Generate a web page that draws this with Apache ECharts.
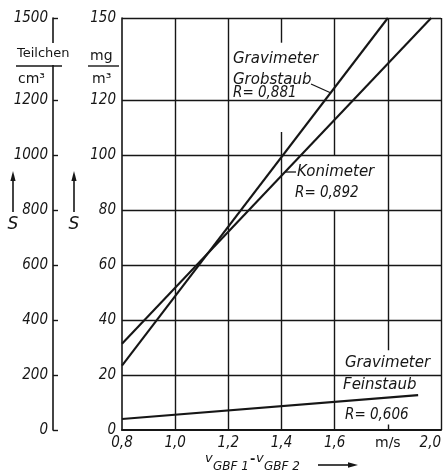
<!DOCTYPE html>
<html><head><meta charset="utf-8">
<script src="https://cdn.jsdelivr.net/npm/echarts@6/dist/echarts.min.js"></script>
<style>html,body{margin:0;padding:0;background:#fff}#c{width:444px;height:476px}</style>
</head><body><div id="c"></div>
<script>
// ---- data ----
const xTicks = [0.8, 1.0, 1.2, 1.4, 1.6, 1.8, 2.0];
const xTickLabels = ['0,8', '1,0', '1,2', '1,4', '1,6', 'm/s', '2,0'];
const massTicks = [0, 20, 40, 60, 80, 100, 120, 150];
const countTicks = [0, 200, 400, 600, 800, 1000, 1200, 1500];
// regression lines (start / end points)
const grobX = [0.8, 1.8];
const grobY = [23.4, 150];
const koniX = [0.8, 1.963];
const koniY = [31.4, 150];
const feinX = [0.8, 1.914];
const feinY = [4.0, 12.7];
// grid lines: horizontal values, vertical [x, from, to] segments
const hGrid = [20, 40, 60, 80, 100, 120, 150];
const vGrid = [[1.0, 0, 150], [1.2, 0, 150], [1.4, 0, 108.5], [1.4, 141, 150],
               [1.6, 0, 80], [1.6, 100, 150], [1.8, 29, 150], [1.8, 0, 2], [2.0, 0, 150]];

const INK = '#161616';
const NUM = '"Liberation Sans Narrow", "DejaVu Sans Condensed", sans-serif';
const TXT = '"DejaVu Sans", sans-serif';
const TXTC = '"DejaVu Sans Condensed", "DejaVu Sans", sans-serif';

function pts(xs, ys) { return xs.map((x, i) => [x, ys[i]]); }
function pick(list, labels) {
  return function (v) {
    const i = list.findIndex(t => Math.abs(t - v) < 1e-6);
    if (i < 0) return '';
    return labels ? labels[i] : String(list[i]);
  };
}
const xFmt = pick(xTicks, xTickLabels);

const gridMarks = hGrid.map(v => ({ yAxis: v }))
  .concat(vGrid.map(s => [{ coord: [s[0], s[1]] }, { coord: [s[0], s[2]] }]));

const lineStyle = { color: INK, width: 2.1 };

function txt(text, x, y, font, extra) {
  return { type: 'text', silent: true, z: 20,
    style: Object.assign({ text: text, x: x, y: y, font: font, fill: INK,
      textAlign: 'left', textVerticalAlign: 'middle' }, extra || {}) };
}
function seg(x1, y1, x2, y2, w) {
  return { type: 'line', silent: true, z: 20,
    shape: { x1: x1, y1: y1, x2: x2, y2: y2 },
    style: { stroke: INK, lineWidth: w || 1.4 } };
}
function upArrow(x, yTop, yBot) {
  return [seg(x, yTop + 8, x, yBot, 1.6),
    { type: 'polygon', silent: true, z: 20,
      shape: { points: [[x, yTop], [x - 2.6, yTop + 10], [x + 2.6, yTop + 10]] },
      style: { fill: INK } }];
}

const chart = echarts.init(document.getElementById('c'), null, { renderer: 'canvas' });
chart.setOption({
  animation: false,
  backgroundColor: '#fff',
  grid: { left: 122, right: 1, top: 18, bottom: 46, containLabel: false },
  xAxis: {
    type: 'value', min: 0.8, max: 2.0, interval: 0.2,
    axisLine: { show: true, onZero: false, lineStyle: { color: INK, width: 2 } },
    axisTick: { show: false },
    splitLine: { show: false },
    axisLabel: {
      formatter: v => { const s = xFmt(v); return s === 'm/s' ? '{u|m/s}' : s; },
      fontFamily: NUM, fontStyle: 'italic', fontSize: 15, color: INK, margin: 6,
      alignMaxLabel: 'right',
      rich: { u: { fontFamily: TXT, fontStyle: 'normal', fontSize: 14, color: INK } }
    }
  },
  yAxis: [
    {
      type: 'value', min: 0, max: 150, interval: 10,
      axisLine: { show: true, onZero: false, lineStyle: { color: INK, width: 1.6 } },
      axisTick: { show: false },
      splitLine: { show: false },
      axisLabel: {
        customValues: massTicks,
        formatter: pick(massTicks),
        fontFamily: NUM, fontStyle: 'italic', fontSize: 15, color: INK, margin: 6
      }
    },
    {
      type: 'value', min: 0, max: 1500, interval: 100, position: 'left', offset: 69,
      axisLine: { show: true, onZero: false, lineStyle: { color: INK, width: 1.6 } },
      axisTick: { show: true, inside: true, length: 5, customValues: countTicks,
        lineStyle: { color: INK, width: 1.4 } },
      splitLine: { show: false },
      axisLabel: {
        customValues: countTicks,
        formatter: pick(countTicks),
        fontFamily: NUM, fontStyle: 'italic', fontSize: 15, color: INK, margin: 5
      }
    }
  ],
  series: [
    { name: 'Gravimeter Grobstaub', type: 'line', data: pts(grobX, grobY), symbol: 'none',
      lineStyle: lineStyle, z: 5, clip: true },
    { name: 'Konimeter', type: 'line', data: pts(koniX, koniY), symbol: 'none',
      lineStyle: lineStyle, z: 5, clip: true },
    { name: 'Gravimeter Feinstaub', type: 'line', data: pts(feinX, feinY), symbol: 'none',
      lineStyle: lineStyle, z: 5, clip: true,
      markLine: { silent: true, symbol: ['none', 'none'], label: { show: false },
        lineStyle: { color: INK, width: 1.4, type: 'solid' }, data: gridMarks } }
  ],
  graphic: [
    // left unit labels
    txt('Teilchen', 17, 54, '13px ' + TXT, { backgroundColor: '#fff', padding: [5, 0, 4, 0] }),
    seg(16, 66, 62, 66, 1.6),
    txt('cm³', 18, 79, '14px ' + TXT),
    txt('mg', 90, 56, '14px ' + TXT),
    seg(88, 66, 119, 66, 1.4),
    txt('m³', 92, 79, '14px ' + TXT),
    ...upArrow(13, 171, 212),
    txt('S', 13, 225, 'italic 17px ' + TXT, { textAlign: 'center' }),
    ...upArrow(74, 171, 212),
    txt('S', 74, 225, 'italic 17px ' + TXT, { textAlign: 'center' }),
    // annotations
    txt('Gravimeter', 233, 59, 'italic 15px ' + TXT),
    txt('Grobstaub', 233, 80, 'italic 15px ' + TXT),
    txt('R= 0,881', 233, 93, 'italic 15px ' + TXTC),
    seg(311, 84, 331, 93, 1.3),
    seg(285, 172, 296, 172, 1.3),
    txt('Konimeter', 297, 172, 'italic 15px ' + TXT),
    txt('R= 0,892', 295, 193, 'italic 15px ' + TXTC),
    txt('Gravimeter', 345, 363, 'italic 15px ' + TXT),
    txt('Feinstaub', 343, 385, 'italic 15px ' + TXT),
    txt('R= 0,606', 345, 415, 'italic 15px ' + TXTC),
    // x-axis title
    txt('v', 205, 459, 'italic 13px ' + TXT),
    txt('GBF 1', 213, 467, 'italic 12px ' + TXT),
    txt('-', 250, 460, 'bold 13px ' + TXT),
    txt('v', 256, 459, 'italic 13px ' + TXT),
    txt('GBF 2', 264, 467, 'italic 12px ' + TXT),
    seg(318, 465, 350, 465, 1.6),
    { type: 'polygon', silent: true, z: 20,
      shape: { points: [[358, 465], [348, 462.3], [348, 467.7]] }, style: { fill: INK } }
  ]
});
</script>
</body></html>
